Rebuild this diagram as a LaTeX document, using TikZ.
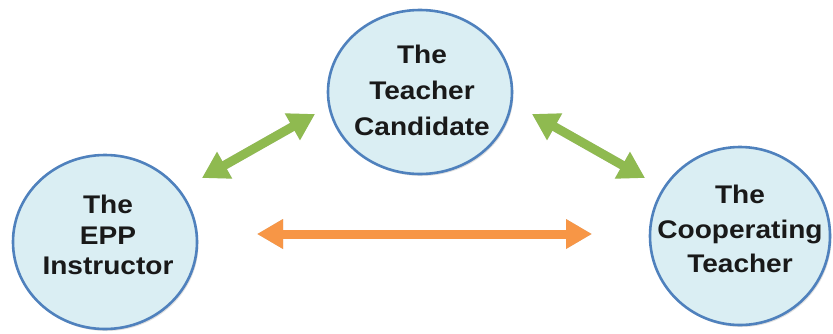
\documentclass[tikz,border=0pt]{standalone}
\usepackage{fontspec}
\newfontfamily\lblfont[FakeStretch=1.1]{Liberation Sans}
\usetikzlibrary{shapes.geometric,arrows.meta,shadows}
\definecolor{bubblefill}{HTML}{DAEEF3}
\definecolor{bubbleline}{HTML}{4F81BD}
\definecolor{arrgreen}{HTML}{8FBA50}
\definecolor{arrorange}{HTML}{F79646}
\tikzset{
  bubble/.style={ellipse, draw=bubbleline, line width=2.6pt, fill=bubblefill, inner sep=0pt,
    drop shadow={opacity=0.25, shadow xshift=1.5pt, shadow yshift=-2pt}},
  lbl/.style={align=center, inner sep=0pt, text=black!90},
  fatgreen/.style={draw=arrgreen, line width=9pt,
    arrows={Triangle[width=29pt,length=26pt]-Triangle[width=29pt,length=26pt]}},
  fatorange/.style={draw=arrorange, line width=9pt,
    arrows={Triangle[width=28pt,length=26pt]-Triangle[width=28pt,length=26pt]}},
  arrshadow/.style={draw=black!60, opacity=0.3, line width=9pt, shift={(2pt,-3.5pt)},
    arrows={Triangle[width=28pt,length=26pt]-Triangle[width=28pt,length=26pt]}},
}
\begin{document}
\begin{tikzpicture}[x=1pt,y=-1pt]
\useasboundingbox (0,0) rectangle (833,333);
% circles
\node[bubble, minimum width=184pt, minimum height=164pt] (tc) at (420,92) {};
\node[bubble, minimum width=184pt, minimum height=174pt] (epp) at (105,242) {};
\node[bubble, minimum width=180pt, minimum height=178pt] (ct) at (740,236) {};
% labels
\node[lbl, font=\lblfont\bfseries\fontsize{25.5}{36}\selectfont] (tct) at (422,90) {The\\Teacher\\Candidate};
\node[lbl, font=\lblfont\bfseries\fontsize{25.5}{30.5}\selectfont] (eppt) at (108,235) {The\\EPP\\Instructor};
\node[lbl, font=\lblfont\bfseries\fontsize{25.5}{34.5}\selectfont] (ctt) at (740,229) {The\\Cooperating\\Teacher};
% arrow end points
\coordinate (g1a) at (202,178);
\coordinate (g1b) at (315,114);
\coordinate (g2a) at (532,114);
\coordinate (g2b) at (645,178);
\coordinate (o1a) at (257,234);
\coordinate (o1b) at (592,234);
% shadows of arrows
\draw[arrshadow] (g1a) -- (g1b);
\draw[arrshadow] (g2a) -- (g2b);
\draw[arrshadow] (o1a) -- (o1b);
% arrows
\draw[fatgreen] (g1a) -- (g1b);
\draw[fatgreen] (g2a) -- (g2b);
\draw[fatorange] (o1a) -- (o1b);
\end{tikzpicture}
\end{document}
